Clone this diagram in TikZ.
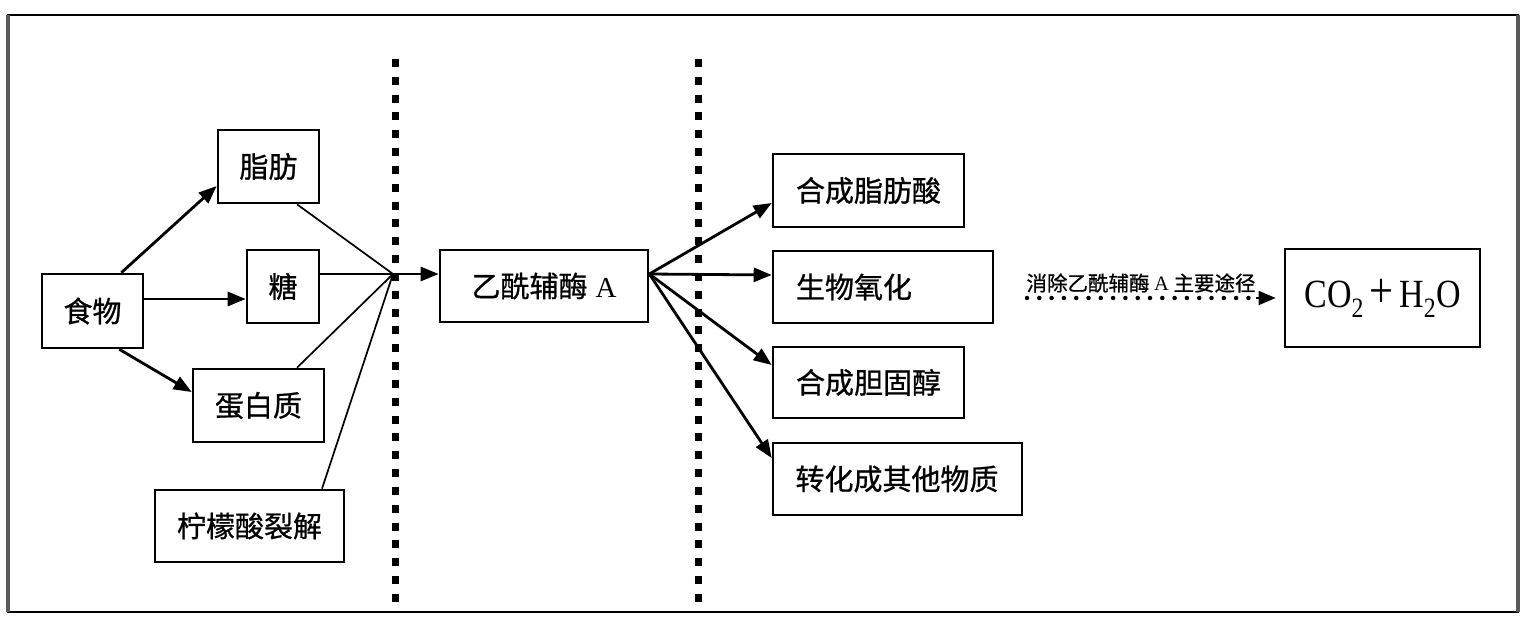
\documentclass[tikz,border=0pt]{standalone}
\usepackage{fontspec}
\usepackage{graphicx}
\newfontfamily\cjk[FakeBold=0.8]{Noto Sans CJK SC}
\newfontfamily\tms{Liberation Serif}
\usetikzlibrary{arrows.meta,calc}
\begin{document}
\begin{tikzpicture}[x=1pt,y=-1pt,
  box/.style={draw, line width=2.6pt, inner sep=0pt, font=\cjk\fontsize{29}{32}\selectfont},
  rbox/.style={box, align=left},
  arr/.style={line width=2.8pt, -{Triangle[length=18pt,width=14pt]}},
  feed/.style={line width=1.7pt},
  sepline/.style={line width=7pt, dash pattern=on 8pt off 9.833pt},
  dotl/.style={line width=4.5pt, line cap=round, dash pattern=on 0pt off 12.3pt},
]
\useasboundingbox (0,0) rectangle (1521,644);
% frame
\draw[line width=1.5pt] (8,15) rectangle (1518,612);
\draw[black!65, line width=3.5pt] (8,15) -- (8,612);
\draw[black!65, line width=3.5pt] (1518,15) -- (1518,612);
% separators
\draw[sepline] (395,59) -- (395,602);
\draw[sepline] (698,59) -- (698,602);
% nodes
\node[box, minimum width=101pt, minimum height=74pt] (food) at (92.5,311) {食物};
\node[box, minimum width=101pt, minimum height=73pt] (fat) at (268.5,166.5) {脂肪};
\node[box, minimum width=72pt, minimum height=73pt] (sugar) at (283,286.5) {糖};
\node[box, minimum width=131pt, minimum height=73pt] (protein) at (258.5,405.5) {蛋白质};
\node[box, minimum width=189pt, minimum height=72pt] (citric) at (249.5,526) {柠檬酸裂解};
\node[box, minimum width=208pt, minimum height=72pt] (acetyl) at (544,286) {乙酰辅酶\hspace{8pt}{\tms A}};
\node[rbox, text width=145pt, minimum width=191pt, minimum height=73pt] (fatty) at (868.5,190.5) {合成脂肪酸};
\node[rbox, text width=174pt, minimum width=220pt, minimum height=72pt] (oxid) at (883,287) {生物氧化};
\node[rbox, text width=145pt, minimum width=191pt, minimum height=71pt] (chol) at (868.5,382.5) {合成胆固醇};
\node[rbox, text width=204pt, minimum width=249pt, minimum height=72pt] (trans) at (897.5,479) {转化成其他物质};
\node[box, minimum width=195pt, minimum height=98pt, font=\tms\fontsize{40}{44}\selectfont] (co2) at (1382.5,298)
  {\scalebox{0.85}[1]{CO\textsubscript{2}\,{\fontsize{50}{50}\selectfont +}\,H\textsubscript{2}O}};
\node[inner sep=0pt, font=\cjk\fontsize{20.5}{22}\selectfont] (lbl) at (1141,283) {消除乙酰辅酶 {\tms A} 主要途径};
% connectors
\draw[arr] ([xshift=-23pt]food.north east) -- ([yshift=-19.5pt]fat.west);
\draw[arr] ([yshift=12pt]food.east) -- ([yshift=-12.5pt]sugar.west);
\draw[arr] ([xshift=-25pt]food.south east) -- ([yshift=13.5pt]protein.west);
\coordinate (conv) at (393,274);
\draw[feed] ([xshift=28.5pt]fat.south) -- (conv);
\draw[line width=2.8pt] ([yshift=12.5pt]sugar.east) -- (conv);
\draw[feed] ([xshift=38.5pt]protein.north) -- (conv);
\draw[feed] ([xshift=72.5pt]citric.north) -- (conv);
\draw[arr] (conv) -- ([yshift=12pt]acetyl.west);
\draw[arr] ([yshift=12pt]acetyl.east) -- ([yshift=-12.5pt]fatty.west);
\draw[arr] ([yshift=12pt]acetyl.east) -- ([yshift=12pt]oxid.west);
\draw[arr] ([yshift=12pt]acetyl.east) -- ([yshift=17.5pt]chol.west);
\draw[arr] ([yshift=12pt]acetyl.east) -- ([yshift=21pt]trans.west);
\coordinate (dstart) at (1027,298);
\coordinate (dend) at (1256,298);
\draw[dotl] (dstart) -- (dend);
\draw[line width=1.5pt, -{Triangle[length=17pt,width=14pt]}, shorten >=8pt] (dend) -- (co2.west);
\end{tikzpicture}
\end{document}
